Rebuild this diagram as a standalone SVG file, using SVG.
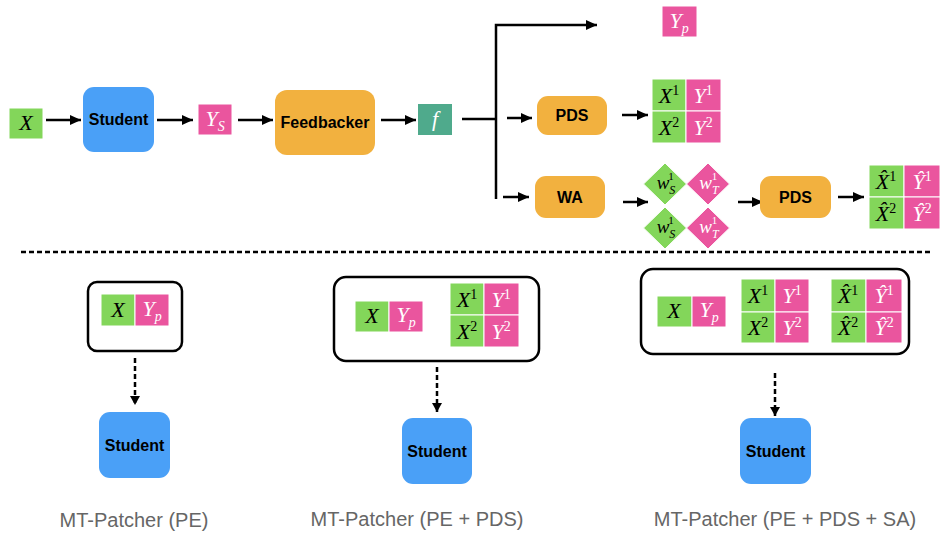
<svg xmlns="http://www.w3.org/2000/svg" width="940" height="538" viewBox="0 0 940 538">
<defs>
<marker id="ah" markerUnits="userSpaceOnUse" markerWidth="12" markerHeight="10" refX="11" refY="5" orient="auto">
<path d="M0,0 L11,5 L0,10 z" fill="#000"/>
</marker>
<marker id="ahs" markerUnits="userSpaceOnUse" markerWidth="10" markerHeight="10" refX="9" refY="5" orient="auto">
<path d="M0,0 L9,5 L0,10 z" fill="#000"/>
</marker>
</defs>
<style>
.g{fill:#83D65A;stroke:#fff;stroke-width:1}
.p{fill:#EA559E;stroke:#fff;stroke-width:1}
.t{fill:#4FAA8C}
.blue{fill:#4AA0F7}
.or{fill:#F2B13F}
.lbl{font-family:"Liberation Sans",Arial,sans-serif;font-weight:bold;font-size:16px;fill:#000;text-anchor:middle}
.m{font-family:"Liberation Serif","Times New Roman",serif;font-style:italic;font-size:22px;text-anchor:middle}
.ms{font-family:"Liberation Serif","Times New Roman",serif;font-style:italic;font-size:19px;text-anchor:middle}
.sup{font-size:14px;font-style:normal}
.sub{font-size:14px}
.ssup{font-size:11px;font-style:normal}
.ssub{font-size:12px}
.k{fill:#000}
.w{fill:#fff}
.box{fill:none;stroke:#000;stroke-width:2.5}
.cap{font-family:"Liberation Sans",Arial,sans-serif;font-size:20px;fill:#666;text-anchor:middle}
.ln{fill:none;stroke:#000;stroke-width:2.5}
.dl{fill:none;stroke:#000;stroke-width:2.5;stroke-dasharray:5,3}
</style>

<g id="connectors">
<line class="ln" x1="46" y1="120" x2="81" y2="120" marker-end="url(#ah)"/>
<line class="ln" x1="157" y1="120" x2="193" y2="120" marker-end="url(#ah)"/>
<line class="ln" x1="238" y1="120" x2="273" y2="120" marker-end="url(#ah)"/>
<line class="ln" x1="381" y1="120" x2="416" y2="120" marker-end="url(#ah)"/>
<polyline class="ln" points="462,119 496,119"/>
<polyline class="ln" points="496,199 496,25 597,25" marker-end="url(#ah)"/>
<line class="ln" x1="507" y1="118" x2="532" y2="118" marker-end="url(#ah)"/>
<line class="ln" x1="503" y1="197" x2="529" y2="197" marker-end="url(#ah)"/>
<line class="ln" x1="622" y1="115" x2="648" y2="115" marker-end="url(#ah)"/>
<line class="ln" x1="623" y1="202" x2="648" y2="202" marker-end="url(#ah)"/>
<line class="ln" x1="738" y1="202" x2="763" y2="202" marker-end="url(#ah)"/>
<line class="ln" x1="838" y1="197" x2="864" y2="197" marker-end="url(#ah)"/>
<line class="dl" x1="21" y1="252" x2="932" y2="252"/>
<line class="dl" x1="135" y1="358" x2="135" y2="405" marker-end="url(#ahs)"/>
<line class="dl" x1="437" y1="367" x2="437" y2="412" marker-end="url(#ahs)"/>
<line class="dl" x1="775" y1="373" x2="775" y2="416" marker-end="url(#ahs)"/>
</g>

<g id="x-input">
<rect class="g" x="9" y="108" width="34" height="31"/>
<text class="m k" x="26" y="130">X</text>
</g>
<g id="student-top">
<rect class="blue" x="83" y="87" width="71" height="65" rx="11"/>
<text class="lbl" x="118.5" y="125">Student</text>
</g>
<g id="ys">
<rect class="p" x="198" y="104" width="34" height="31"/>
<text class="m w" x="215" y="126">Y<tspan class="sub" dy="5">S</tspan></text>
</g>
<g id="feedbacker">
<rect class="or" x="275" y="90" width="100" height="65" rx="12"/>
<text class="lbl" x="325" y="128">Feedbacker</text>
</g>
<g id="f">
<rect class="t" x="418" y="104" width="34" height="31"/>
<text class="m w" x="435" y="126">f</text>
</g>
<g id="yp-top">
<rect class="p" x="662" y="6" width="35" height="31"/>
<text class="m w" x="679" y="28">Y<tspan class="sub" dy="5">p</tspan></text>
</g>
<g id="pds1">
<rect class="or" x="537" y="96" width="70" height="39" rx="11"/>
<text class="lbl" x="572" y="121">PDS</text>
</g>
<g id="table1">
<rect class="g" x="652" y="79" width="34" height="32"/>
<rect class="p" x="686" y="79" width="35" height="32"/>
<rect class="g" x="652" y="111" width="34" height="32"/>
<rect class="p" x="686" y="111" width="35" height="32"/>
<text class="m k" x="669" y="103">X<tspan class="sup" dy="-8">1</tspan></text>
<text class="m w" x="703" y="103">Y<tspan class="sup" dy="-8">1</tspan></text>
<text class="m k" x="669" y="135">X<tspan class="sup" dy="-8">2</tspan></text>
<text class="m w" x="703" y="135">Y<tspan class="sup" dy="-8">2</tspan></text>
</g>
<g id="wa">
<rect class="or" x="535" y="176" width="70" height="42" rx="11"/>
<text class="lbl" x="570" y="203">WA</text>
</g>
<g id="weights">
<polygon class="g" points="665,163 686.5,184 665,205 643.5,184" stroke="none"/>
<polygon class="p" points="708,163 729.5,184 708,205 686.5,184" stroke="none"/>
<polygon class="g" points="665,207 686.5,228 665,249 643.5,228" stroke="none"/>
<polygon class="p" points="708,207 729.5,228 708,249 686.5,228" stroke="none"/>
<text class="ms k" x="666" y="189">w<tspan class="ssub" dy="5">S</tspan><tspan class="ssup" dx="-7" dy="-14">1</tspan></text>
<text class="ms w" x="709" y="189">w<tspan class="ssub" dy="5">T</tspan><tspan class="ssup" dx="-7" dy="-14">1</tspan></text>
<text class="ms k" x="666" y="233">w<tspan class="ssub" dy="5">S</tspan><tspan class="ssup" dx="-7" dy="-14">1</tspan></text>
<text class="ms w" x="709" y="233">w<tspan class="ssub" dy="5">T</tspan><tspan class="ssup" dx="-7" dy="-14">1</tspan></text>
</g>
<g id="pds2">
<rect class="or" x="760" y="176" width="71" height="42" rx="11"/>
<text class="lbl" x="795.5" y="203">PDS</text>
</g>
<g id="table-hat">
<rect class="g" x="869" y="165" width="35" height="32"/>
<rect class="p" x="904" y="165" width="36" height="32"/>
<rect class="g" x="869" y="197" width="35" height="32"/>
<rect class="p" x="904" y="197" width="36" height="32"/>
<text class="m k" x="886" y="189">X&#x302;<tspan class="sup" dy="-8">1</tspan></text>
<text class="m w" x="922" y="189">Y&#x302;<tspan class="sup" dy="-8">1</tspan></text>
<text class="m k" x="886" y="221">X&#x302;<tspan class="sup" dy="-8">2</tspan></text>
<text class="m w" x="922" y="221">Y&#x302;<tspan class="sup" dy="-8">2</tspan></text>
</g>

<g id="pe-box">
<rect class="box" x="88" y="282" width="94" height="69" rx="9"/>
<rect class="g" x="101" y="294" width="34" height="32"/>
<rect class="p" x="135" y="294" width="34" height="32"/>
<text class="m k" x="118" y="317">X</text>
<text class="m w" x="152" y="316">Y<tspan class="sub" dy="5">p</tspan></text>
</g>
<g id="student-pe">
<rect class="blue" x="99" y="412" width="71" height="66" rx="11"/>
<text class="lbl" x="134.5" y="451">Student</text>
</g>
<text class="cap" x="134" y="527">MT-Patcher (PE)</text>

<g id="pe-pds-box">
<rect class="box" x="334" y="277" width="205" height="84" rx="12"/>
<rect class="g" x="355" y="301" width="34" height="31"/>
<rect class="p" x="389" y="301" width="34" height="31"/>
<text class="m k" x="372" y="323">X</text>
<text class="m w" x="406" y="322">Y<tspan class="sub" dy="5">p</tspan></text>
<rect class="g" x="450" y="283" width="34" height="32"/>
<rect class="p" x="484" y="283" width="35" height="32"/>
<rect class="g" x="450" y="315" width="34" height="32"/>
<rect class="p" x="484" y="315" width="35" height="32"/>
<text class="m k" x="467" y="307">X<tspan class="sup" dy="-8">1</tspan></text>
<text class="m w" x="501" y="307">Y<tspan class="sup" dy="-8">1</tspan></text>
<text class="m k" x="467" y="339">X<tspan class="sup" dy="-8">2</tspan></text>
<text class="m w" x="501" y="339">Y<tspan class="sup" dy="-8">2</tspan></text>
</g>
<g id="student-pe-pds">
<rect class="blue" x="402" y="418" width="70" height="66" rx="11"/>
<text class="lbl" x="437" y="457">Student</text>
</g>
<text class="cap" x="417" y="526">MT-Patcher (PE + PDS)</text>

<g id="pe-pds-sa-box">
<rect class="box" x="641" y="269" width="268" height="85" rx="12"/>
<rect class="g" x="657" y="296" width="35" height="31"/>
<rect class="p" x="692" y="296" width="34" height="31"/>
<text class="m k" x="674" y="318">X</text>
<text class="m w" x="709" y="317">Y<tspan class="sub" dy="5">p</tspan></text>
<rect class="g" x="741" y="279" width="34" height="33"/>
<rect class="p" x="775" y="279" width="34" height="33"/>
<rect class="g" x="741" y="312" width="34" height="31"/>
<rect class="p" x="775" y="312" width="34" height="31"/>
<text class="m k" x="758" y="303">X<tspan class="sup" dy="-8">1</tspan></text>
<text class="m w" x="792" y="303">Y<tspan class="sup" dy="-8">1</tspan></text>
<text class="m k" x="758" y="335">X<tspan class="sup" dy="-8">2</tspan></text>
<text class="m w" x="792" y="335">Y<tspan class="sup" dy="-8">2</tspan></text>
<rect class="g" x="831" y="279" width="35" height="33"/>
<rect class="p" x="866" y="279" width="36" height="33"/>
<rect class="g" x="831" y="312" width="35" height="31"/>
<rect class="p" x="866" y="312" width="36" height="31"/>
<text class="m k" x="848" y="303">X&#x302;<tspan class="sup" dy="-8">1</tspan></text>
<text class="m w" x="884" y="303">Y&#x302;<tspan class="sup" dy="-8">1</tspan></text>
<text class="m k" x="848" y="335">X&#x302;<tspan class="sup" dy="-8">2</tspan></text>
<text class="m w" x="884" y="335">Y&#x302;<tspan class="sup" dy="-8">2</tspan></text>
</g>
<g id="student-pe-pds-sa">
<rect class="blue" x="740" y="418" width="71" height="66" rx="11"/>
<text class="lbl" x="775.5" y="457">Student</text>
</g>
<text class="cap" x="785" y="526">MT-Patcher (PE + PDS + SA)</text>
</svg>
